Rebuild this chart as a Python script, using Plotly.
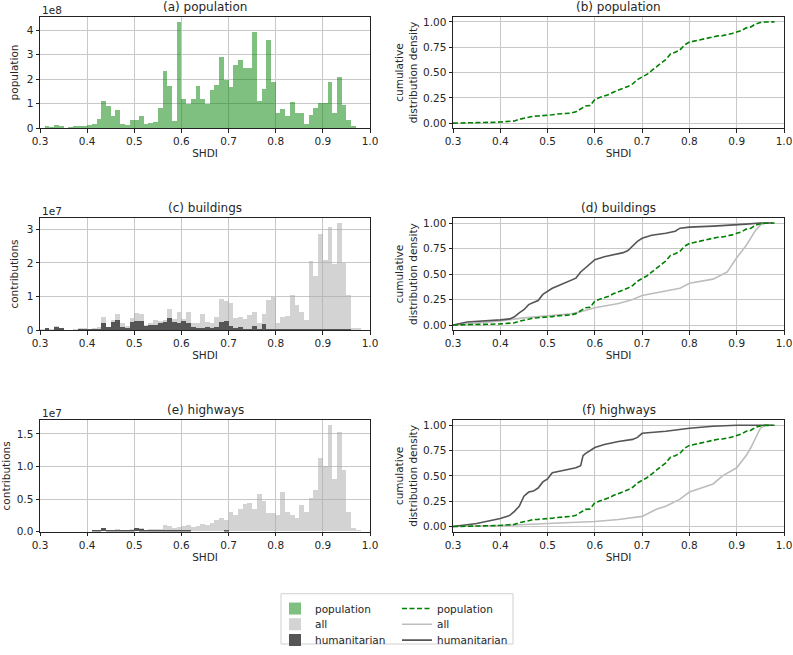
import numpy as np
import plotly.graph_objects as go

# ---------------- data ----------------
bin_width = 0.01
bin_left = np.round(np.arange(0.30, 0.975, 0.01), 2)  # 0.30 ... 0.97

population_1e8 = [
    0.02, 0.08, 0.06, 0.13, 0.09, 0.03, 0.04, 0.08, 0.12, 0.11,
    0.15, 0.20, 0.40, 1.12, 0.90, 0.50, 0.77, 0.18, 0.15, 0.33,
    0.33, 0.50, 0.20, 0.22, 0.28, 0.85, 2.33, 1.72, 0.30, 4.33,
    1.22, 1.00, 1.20, 1.73, 1.20, 1.00, 1.58, 1.78, 2.93, 1.97,
    1.70, 2.60, 2.80, 2.45, 2.45, 3.93, 1.13, 1.63, 3.60, 1.88,
    0.65, 0.80, 0.52, 1.06, 0.62, 0.62, 0.20, 0.55, 0.85, 1.05,
    1.03, 1.90, 0.65, 2.10, 0.95, 0.35, 0.10, 0.03,
]

buildings_all_1e7 = [
    0.03, 0.06, 0.04, 0.12, 0.06, 0.01, 0.01, 0.02, 0.06, 0.06,
    0.04, 0.05, 0.10, 0.38, 0.10, 0.30, 0.47, 0.20, 0.12, 0.36,
    0.52, 0.47, 0.15, 0.20, 0.30, 0.27, 0.30, 0.63, 0.33, 0.55,
    0.33, 0.53, 0.20, 0.20, 0.48, 0.25, 0.20, 0.40, 0.92, 0.88,
    0.80, 0.35, 0.40, 0.32, 0.45, 0.55, 0.20, 0.48, 0.90, 1.00,
    0.20, 0.40, 0.42, 1.05, 0.75, 0.55, 0.30, 2.05, 1.60, 2.85,
    2.09, 3.08, 1.97, 3.18, 2.00, 1.05, 0.06, 0.05,
]
buildings_hum_1e7 = [
    0.00, 0.05, 0.00, 0.10, 0.05, 0.00, 0.00, 0.00, 0.01, 0.01,
    0.01, 0.02, 0.04, 0.22, 0.08, 0.25, 0.30, 0.10, 0.05, 0.23,
    0.28, 0.28, 0.12, 0.15, 0.15, 0.20, 0.25, 0.37, 0.25, 0.20,
    0.27, 0.20, 0.10, 0.05, 0.05, 0.08, 0.05, 0.10, 0.23, 0.27,
    0.12, 0.05, 0.08, 0.03, 0.03, 0.12, 0.03, 0.19, 0.02, 0.01,
    0.01, 0.01, 0.01, 0.02, 0.01, 0.01, 0.01, 0.02, 0.03, 0.02,
    0.01, 0.02, 0.01, 0.03, 0.01, 0.01, 0.00, 0.00,
]

highways_all_1e7 = [
    0.01, 0.01, 0.01, 0.01, 0.01, 0.00, 0.00, 0.01, 0.01, 0.01,
    0.01, 0.01, 0.02, 0.06, 0.02, 0.02, 0.04, 0.02, 0.02, 0.03,
    0.06, 0.06, 0.02, 0.03, 0.03, 0.04, 0.10, 0.08, 0.05, 0.07,
    0.08, 0.10, 0.07, 0.08, 0.12, 0.10, 0.13, 0.17, 0.20, 0.18,
    0.30, 0.25, 0.35, 0.42, 0.44, 0.35, 0.58, 0.47, 0.28, 0.28,
    0.25, 0.60, 0.30, 0.25, 0.20, 0.40, 0.30, 0.52, 0.63, 1.12,
    1.00, 1.63, 0.80, 1.52, 0.95, 0.30, 0.05, 0.02,
]
highways_hum_1e7 = [
    0.00, 0.00, 0.00, 0.00, 0.00, 0.00, 0.00, 0.00, 0.00, 0.00,
    0.00, 0.01, 0.01, 0.05, 0.01, 0.01, 0.02, 0.01, 0.01, 0.01,
    0.05, 0.03, 0.01, 0.01, 0.01, 0.01, 0.01, 0.02, 0.01, 0.01,
    0.01, 0.01, 0.00, 0.00, 0.00, 0.00, 0.00, 0.00, 0.00, 0.01,
    0.00, 0.00, 0.00, 0.00, 0.00, 0.00, 0.00, 0.00, 0.00, 0.00,
    0.00, 0.00, 0.00, 0.00, 0.00, 0.00, 0.00, 0.00, 0.00, 0.00,
    0.00, 0.00, 0.00, 0.00, 0.00, 0.00, 0.00, 0.00,
]

# cumulative distribution curves
bld_hum_cdf_x = [0.30, 0.33, 0.40, 0.42, 0.43, 0.44, 0.45, 0.46, 0.47, 0.48, 0.49, 0.50, 0.51, 0.52,
                 0.53, 0.55, 0.56, 0.57, 0.58, 0.59, 0.60, 0.62, 0.64, 0.66, 0.67, 0.68, 0.69, 0.70,
                 0.72, 0.75, 0.77, 0.78, 0.80, 0.85, 0.90, 0.92, 0.95, 0.975]
bld_hum_cdf_y = [0.00, 0.03, 0.05, 0.06, 0.08, 0.12, 0.15, 0.20, 0.22, 0.24, 0.30, 0.33, 0.36, 0.38,
                 0.40, 0.44, 0.46, 0.52, 0.56, 0.60, 0.64, 0.67, 0.69, 0.71, 0.73, 0.78, 0.82, 0.85,
                 0.88, 0.90, 0.92, 0.95, 0.96, 0.97, 0.98, 0.99, 1.00, 1.00]
bld_all_cdf_x = [0.30, 0.35, 0.40, 0.45, 0.50, 0.55, 0.57, 0.60, 0.65, 0.68, 0.70, 0.75, 0.78, 0.80,
                 0.85, 0.88, 0.90, 0.92, 0.93, 0.94, 0.95, 0.96, 0.975]
bld_all_cdf_y = [0.00, 0.02, 0.04, 0.07, 0.09, 0.11, 0.13, 0.17, 0.21, 0.25, 0.29, 0.33, 0.36, 0.41,
                 0.45, 0.52, 0.66, 0.78, 0.85, 0.93, 0.98, 1.00, 1.00]
hwy_hum_cdf_x = [0.30, 0.35, 0.40, 0.42, 0.43, 0.44, 0.45, 0.46, 0.47, 0.48, 0.49, 0.50, 0.505, 0.51,
                 0.52, 0.55, 0.56, 0.57, 0.575, 0.58, 0.60, 0.62, 0.65, 0.68, 0.69, 0.70, 0.75, 0.80,
                 0.85, 0.90, 0.975]
hwy_hum_cdf_y = [0.00, 0.03, 0.08, 0.11, 0.15, 0.20, 0.30, 0.34, 0.35, 0.38, 0.44, 0.47, 0.50, 0.53,
                 0.54, 0.57, 0.58, 0.60, 0.70, 0.72, 0.78, 0.81, 0.84, 0.86, 0.88, 0.92, 0.94, 0.97,
                 0.99, 1.00, 1.00]
hwy_all_cdf_x = [0.30, 0.40, 0.50, 0.60, 0.65, 0.70, 0.73, 0.75, 0.78, 0.80, 0.85, 0.87, 0.90, 0.92,
                 0.93, 0.94, 0.95, 0.96, 0.975]
hwy_all_cdf_y = [0.00, 0.01, 0.03, 0.05, 0.07, 0.10, 0.17, 0.20, 0.27, 0.34, 0.42, 0.50, 0.58, 0.70,
                 0.78, 0.88, 0.97, 1.00, 1.00]

x_ticks = [0.3, 0.4, 0.5, 0.6, 0.7, 0.8, 0.9, 1.0]
x_ticklabels = ["0.3", "0.4", "0.5", "0.6", "0.7", "0.8", "0.9", "1.0"]
cdf_ticks = [0.0, 0.25, 0.5, 0.75, 1.0]
cdf_ticklabels = ["0.00", "0.25", "0.50", "0.75", "1.00"]

# population CDF from the population histogram
pop_arr = np.array(population_1e8)
pop_cdf_x = np.concatenate([[bin_left[0]], bin_left + bin_width])
pop_cdf_y = np.concatenate([[0.0], np.cumsum(pop_arr) / pop_arr.sum()])

# ---------------- styling ----------------
W, H = 793, 655
FONT = "DejaVu Sans"
TXT = "#262626"
GREEN_BAR = "rgba(0,128,0,0.5)"
LIGHT_BAR = "rgba(168,168,168,0.5)"
DARK_BAR = "#555555"
GREEN_LINE = "#008000"
LIGHT_LINE = "#bdbdbd"
DARK_LINE = "#555555"
GRID = "#c8c8c8"
FS = 10.5

left_dom = [40 / W, 370 / W]
right_dom = [453 / W, 784 / W]
rows_px = [(17, 130), (221, 334.7), (426, 539)]
row_dom = [[1 - b / H, 1 - t / H] for t, b in rows_px]

fig = go.Figure()
centers = bin_left + bin_width / 2

def add_bar(y, color, xa, ya, name, legend=None):
    fig.add_trace(go.Bar(x=centers, y=y, width=bin_width, marker=dict(color=color, line=dict(width=0)),
                         name=name, showlegend=legend is not None, legend=legend or "legend",
                         xaxis=xa, yaxis=ya, hoverinfo="x+y"))

def add_line(x, y, color, dash, xa, ya, name, legend=None):
    fig.add_trace(go.Scatter(x=x, y=y, mode="lines", line=dict(color=color, width=1.6, dash=dash),
                             name=name, showlegend=legend is not None, legend=legend or "legend",
                             xaxis=xa, yaxis=ya))

# (a)
add_bar(population_1e8, GREEN_BAR, "x", "y", "population", "legend")
# (c)
add_bar(buildings_all_1e7, LIGHT_BAR, "x3", "y3", "all", "legend2")
add_bar(buildings_hum_1e7, DARK_BAR, "x3", "y3", "humanitarian", "legend3")
# (e)
add_bar(highways_all_1e7, LIGHT_BAR, "x5", "y5", "all")
add_bar(highways_hum_1e7, DARK_BAR, "x5", "y5", "humanitarian")

dash = "5px,2.5px"
# (b)
add_line(pop_cdf_x, pop_cdf_y, GREEN_LINE, dash, "x2", "y2", "population", "legend4")
# (d)
add_line(bld_all_cdf_x, bld_all_cdf_y, LIGHT_LINE, "solid", "x4", "y4", "all", "legend5")
add_line(bld_hum_cdf_x, bld_hum_cdf_y, DARK_LINE, "solid", "x4", "y4", "humanitarian", "legend6")
add_line(pop_cdf_x, pop_cdf_y, GREEN_LINE, dash, "x4", "y4", "population")
# (f)
add_line(hwy_all_cdf_x, hwy_all_cdf_y, LIGHT_LINE, "solid", "x6", "y6", "all")
add_line(hwy_hum_cdf_x, hwy_hum_cdf_y, DARK_LINE, "solid", "x6", "y6", "humanitarian")
add_line(pop_cdf_x, pop_cdf_y, GREEN_LINE, dash, "x6", "y6", "population")

axis_common = dict(showline=True, mirror=True, linecolor="#222", linewidth=1, ticks="outside",
                   ticklen=3.5, tickwidth=0.9, tickcolor="#222", showgrid=True, gridcolor=GRID,
                   gridwidth=1, zeroline=False, automargin=False,
                   tickfont=dict(size=FS, color=TXT, family=FONT))
title_font = dict(size=FS, color=TXT, family=FONT)

layout_axes = {}
for i in range(6):
    r, c = divmod(i, 2)
    n = "" if i == 0 else str(i + 1)
    layout_axes["xaxis" + n] = dict(axis_common, domain=left_dom if c == 0 else right_dom,
                                    anchor="y" + n, range=[0.3, 1.0], tickvals=x_ticks,
                                    ticktext=x_ticklabels,
                                    title=dict(text="SHDI", font=title_font, standoff=3))
    ya = dict(axis_common, domain=row_dom[r], anchor="x" + n)
    if c == 1:
        ya.update(range=[-0.05, 1.05], tickvals=cdf_ticks, ticktext=cdf_ticklabels,
                  title=dict(text="cumulative<br>distribution density", font=title_font, standoff=3))
    else:
        if r == 0:
            ya.update(range=[0, 4.55], tickvals=[0, 1, 2, 3, 4], ticktext=["0", "1", "2", "3", "4"],
                      title=dict(text="population", font=title_font, standoff=6))
        elif r == 1:
            ya.update(range=[0, 3.34], tickvals=[0, 1, 2, 3], ticktext=["0", "1", "2", "3"],
                      title=dict(text="contributions", font=title_font, standoff=6))
        else:
            ya.update(range=[0, 1.71], tickvals=[0, 0.5, 1.0, 1.5], ticktext=["0.0", "0.5", "1.0", "1.5"],
                      title=dict(text="contributions", font=title_font, standoff=7))
    layout_axes["yaxis" + n] = ya

titles = ["(a) population", "(b) population", "(c) buildings", "(d) buildings",
          "(e) highways", "(f) highways"]
annotations = []
for i, t in enumerate(titles):
    r, c = divmod(i, 2)
    dom = left_dom if c == 0 else right_dom
    annotations.append(dict(text=t, x=(dom[0] + dom[1]) / 2, y=row_dom[r][1], xref="paper", yref="paper",
                            xanchor="center", yanchor="bottom", yshift=1, showarrow=False,
                            font=dict(size=12, color=TXT, family=FONT)))
for r, txt in enumerate(["1e8", "1e7", "1e7"]):
    annotations.append(dict(text=txt, x=left_dom[0], y=row_dom[r][1], xref="paper", yref="paper",
                            xanchor="left", yanchor="bottom", yshift=-1, showarrow=False,
                            font=dict(size=FS, color=TXT, family=FONT)))

# six single-entry legends laid out as a 2-column legend
legend_rows_y = [617, 633, 649]
legends = {}
for k in range(6):
    col, row = divmod(k, 3)
    key = "legend" if k == 0 else "legend" + str(k + 1)
    legends[key] = dict(x=(275 if col == 0 else 397) / W, y=1 - legend_rows_y[row] / H,
                        xanchor="left", yanchor="middle", bgcolor="rgba(0,0,0,0)",
                        font=dict(size=FS, color=TXT, family=FONT), borderwidth=0)

fig.update_layout(
    width=W, height=H, margin=dict(l=0, r=0, t=0, b=0), autosize=False,
    paper_bgcolor="white", plot_bgcolor="white", barmode="overlay", bargap=0,
    font=dict(family=FONT, size=FS, color=TXT),
    annotations=annotations,
    shapes=[dict(type="rect", xref="paper", yref="paper", x0=281 / W, x1=513 / W,
                 y0=1 - 653 / H, y1=1 - 602 / H, line=dict(color="#d0d0d0", width=1))],
    showlegend=True,
    **legends,
    **layout_axes,
)

fig.write_html("out.html", config={"displayModeBar": False},
               post_script="document.body.style.margin='0';document.body.style.overflow='hidden';")
